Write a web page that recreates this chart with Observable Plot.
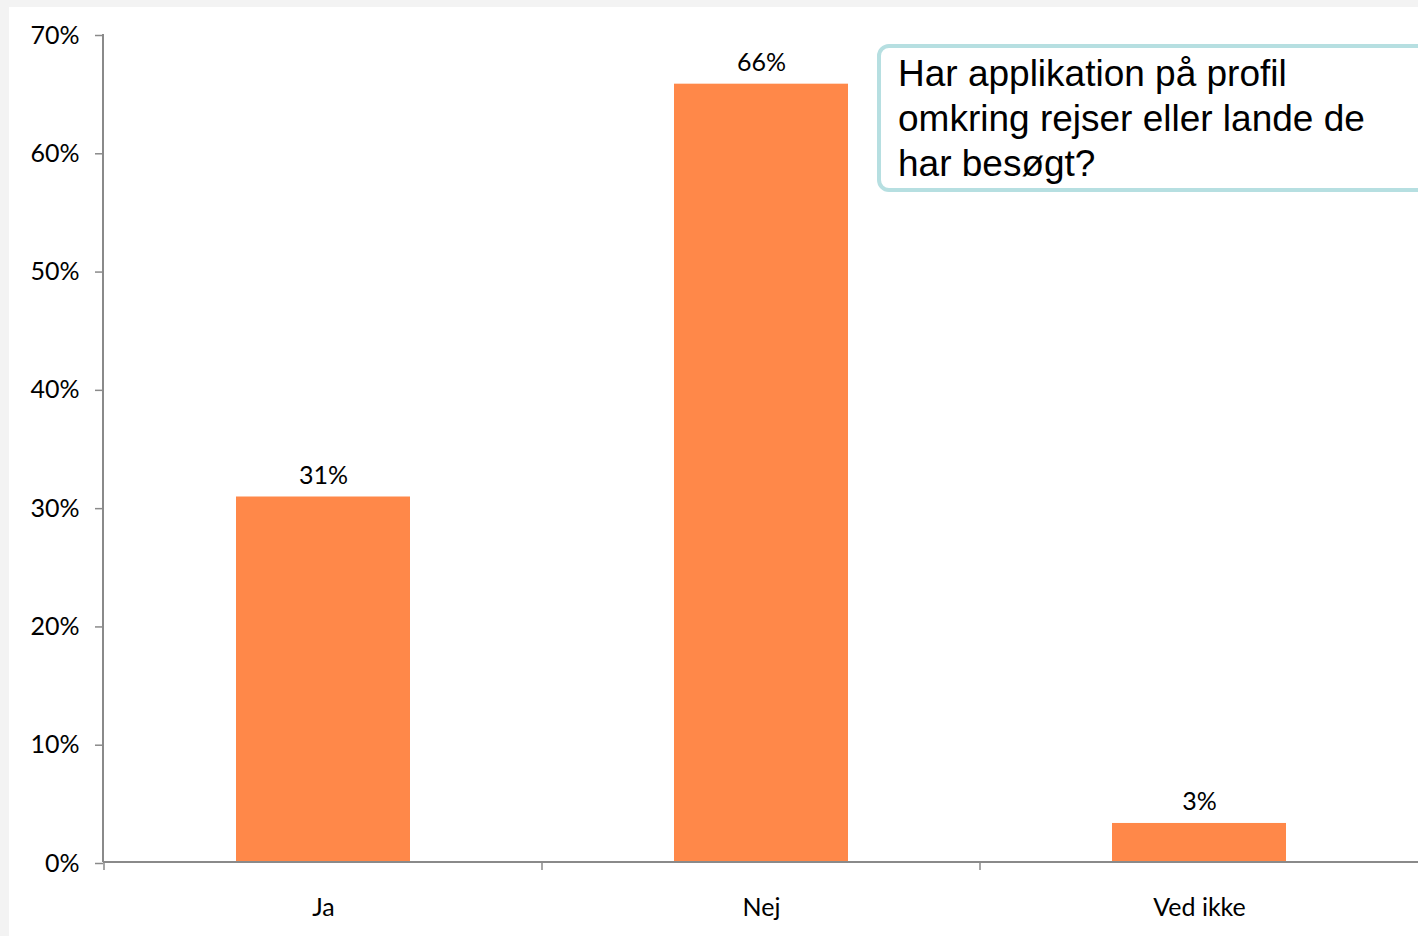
<!DOCTYPE html>
<html>
<head>
<meta charset="utf-8">
<script src="https://cdn.jsdelivr.net/npm/d3@7"></script>
<script src="https://cdn.jsdelivr.net/npm/@observablehq/plot@0.6"></script>
<style>
  html, body { margin: 0; padding: 0; }
  body { width: 1418px; height: 936px; background: #f3f3f3; position: relative; overflow: hidden; }
  #chart { position: absolute; left: 9px; top: 7px; background: #ffffff; }
  #title {
    position: absolute; left: 877px; top: 44px; width: 600px; height: 137px;
    border: 4px solid #b6dfe1; border-radius: 12px; background: #ffffff;
    font-family: "Liberation Sans", Arial, sans-serif; font-size: 37px; line-height: 45px;
    color: #000; padding: 3px 0 0 17px; box-sizing: content-box;
  }
</style>
</head>
<body>
<div id="chart"></div>
<div id="title">Har applikation på profil<br>omkring rejser eller lande de<br>har besøgt?</div>
<script>
const categories = ["Ja", "Nej", "Ved ikke"];
const values = [0.309, 0.658, 0.033];
const labels = ["31%", "66%", "3%"];
const yTicks = [0, 0.1, 0.2, 0.3, 0.4, 0.5, 0.6, 0.7];

const data = categories.map((c, i) => ({category: c, value: values[i], label: labels[i]}));

const axisColor = "#8a8a8a";
const font = "Lato, 'Open Sans', sans-serif";

function axisLines(index, scales, values, dimensions) {
  const svg = d3.create("svg:g");
  const x = scales.x, y = scales.y;
  const left = dimensions.marginLeft;
  const right = dimensions.width - dimensions.marginRight;
  const y0 = y(0), yTop = y(0.7);
  svg.append("line").attr("x1", left).attr("x2", left).attr("y1", yTop).attr("y2", y0)
    .attr("stroke", axisColor).attr("stroke-width", 2);
  svg.append("line").attr("x1", left).attr("x2", right).attr("y1", y0).attr("y2", y0)
    .attr("stroke", axisColor).attr("stroke-width", 2);
  const gap = (x.step() - x.bandwidth()) / 2;
  for (const c of categories) {
    const bx = x(c) - gap;
    svg.append("line").attr("x1", bx).attr("x2", bx).attr("y1", y0).attr("y2", y0 + 8)
      .attr("stroke", axisColor).attr("stroke-width", 1.5);
  }
  return svg.node();
}

const chart = Plot.plot({
  width: 1409,
  height: 929,
  marginLeft: 94,
  marginRight: 0,
  marginTop: 27,
  marginBottom: 74,
  style: {fontFamily: font, fontSize: "25px", color: "#000", background: "#ffffff"},
  x: {domain: categories, paddingInner: 0.603, paddingOuter: 0.3015, label: null},
  y: {domain: [0, 0.7], label: null},
  marks: [
    Plot.barY(data, {x: "category", y: "value", fill: "#ff8849"}),
    Plot.text(data, {x: "category", y: "value", text: "label", dy: -13, lineAnchor: "bottom",
      fontSize: 25, fill: "#000"}),
    Plot.axisY({ticks: yTicks, tickFormat: d3.format(".0%"), tickSize: 8, tickPadding: 16, dy: 1,
      stroke: axisColor, strokeWidth: 1.5, fontSize: 25, fill: "#000", label: null}),
    Plot.axisX({tickSize: 0, tickPadding: 36, fontSize: 25, fill: "#000", label: null}),
    axisLines
  ]
});
document.getElementById("chart").appendChild(chart);
</script>
</body>
</html>
